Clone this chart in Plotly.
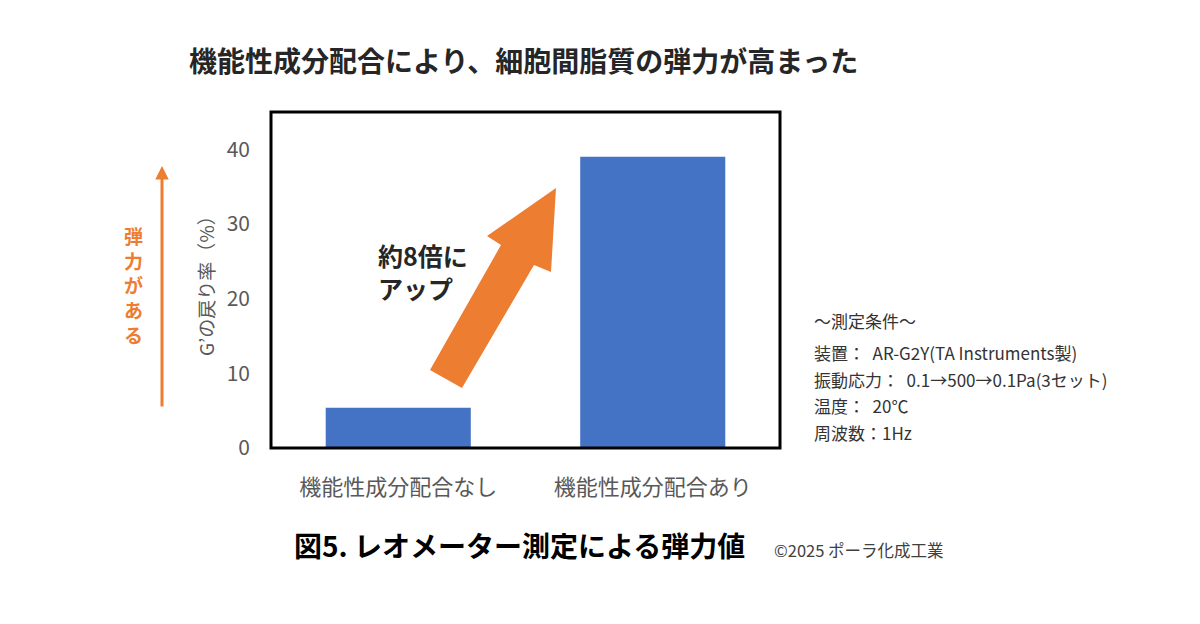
import plotly.graph_objects as go

# ---- data ----
categories = ["機能性成分配合なし", "機能性成分配合あり"]
values = [5.4, 39.0]
y_ticks = [0, 10, 20, 30, 40]
y_title = "G’の戻り率（%）"
chart_title = "機能性成分配合により、細胞間脂質の弾力が高まった"
caption = "図5. レオメーター測定による弾力値"
credit = "©2025 ポーラ化成工業"
callout = "約8倍に<br>アップ"
side_label = ["弾", "力", "が", "あ", "る"]
conditions = ["～測定条件～",
              "装置：  AR-G2Y(TA Instruments製)",
              "振動応力：  0.1→500→0.1Pa(3セット)",
              "温度：  20℃",
              "周波数：1Hz"]

FONT = "Noto Sans CJK JP"
BLUE = "#4472C4"
ORANGE = "#ED7D31"
GRAY = "#595959"

W, H = 1200, 624
L, R, T, B = 271, 780, 112, 448


def px(x):
    return (x - L) / (R - L)


def py(y):
    return (B - y) / (B - T)


fig = go.Figure(go.Bar(x=categories, y=values, marker=dict(color=BLUE, line=dict(width=0)),
                       hoverinfo="skip"))

fig.update_layout(
    width=W, height=H,
    margin=dict(l=L, r=W - R, t=T, b=H - B),
    paper_bgcolor="white", plot_bgcolor="white",
    bargap=0.43,
    showlegend=False,
    font=dict(family=FONT, color=GRAY),
    title=dict(text=f"<b>{chart_title}</b>", x=189 / W, xanchor="left",
               y=1 - 62 / H, yanchor="middle",
               font=dict(family=FONT, size=28, color="#262626")),
)
fig.update_yaxes(range=[0, 45], tickvals=y_ticks, showgrid=False, zeroline=False,
                 showline=False, ticks="", ticklabelstandoff=20,
                 tickfont=dict(family=FONT, size=21, color=GRAY))
fig.update_xaxes(showgrid=False, showline=False, ticks="", ticklabelstandoff=24,
                 tickfont=dict(family=FONT, size=22, color=GRAY))

# plot frame
fig.add_shape(type="rect", xref="paper", yref="paper", x0=0, x1=1, y0=0, y1=1,
              line=dict(color="black", width=3), layer="above")

# block arrow
pts = [(556, 188), (487, 236), (501, 245), (430, 370), (462, 388), (534, 265), (551, 272)]
path = "M " + " L ".join(f"{px(x):.4f},{py(y):.4f}" for x, y in pts) + " Z"
fig.add_shape(type="path", xref="paper", yref="paper", path=path,
              fillcolor=ORANGE, line=dict(width=0), layer="above")

ann = []
ann.append(dict(text=f"<b>{callout}</b>", x=px(376), y=py(271), xref="paper", yref="paper",
                xanchor="left", yanchor="middle", align="left", showarrow=False,
                font=dict(family=FONT, size=25, color="#262626")))
ann.append(dict(text=y_title, x=px(205), y=py(281), xref="paper", yref="paper",
                textangle=-90, xanchor="center", yanchor="middle", showarrow=False,
                font=dict(family=FONT, size=19, color=GRAY)))
ann.append(dict(text="<b>" + "<br>".join(side_label) + "</b>", x=px(133), y=py(285),
                xref="paper", yref="paper", xanchor="center", yanchor="middle",
                showarrow=False, font=dict(family=FONT, size=19, color=ORANGE)))
# vertical orange arrow
ann.append(dict(text="", x=px(162), y=py(166), xref="paper", yref="paper",
                ax=0, ay=242, showarrow=True, arrowhead=2, arrowsize=0.9, arrowwidth=3,
                arrowcolor=ORANGE))
cond_y = [320, 352, 379, 405, 432]
for line, yy in zip(conditions, cond_y):
    ann.append(dict(text=line, x=px(812), y=py(yy), xref="paper", yref="paper",
                    xanchor="left", yanchor="middle", align="left", showarrow=False,
                    font=dict(family=FONT, size=17, color="#333333")))
ann.append(dict(text=f"<b>{caption}</b>", x=px(292), y=py(545), xref="paper", yref="paper",
                xanchor="left", yanchor="middle", showarrow=False,
                font=dict(family=FONT, size=28, color="black")))
ann.append(dict(text=credit, x=px(772), y=py(550), xref="paper", yref="paper",
                xanchor="left", yanchor="middle", showarrow=False,
                font=dict(family=FONT, size=16.5, color="#404040")))
fig.update_layout(annotations=ann)

fig.write_html("out.html", config={"displayModeBar": False},
               post_script="document.body.style.margin='0';")
